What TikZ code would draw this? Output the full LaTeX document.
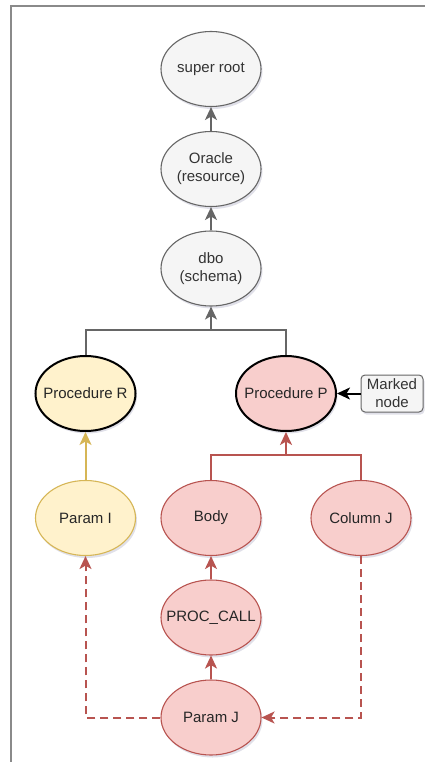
\documentclass[tikz,border=0pt]{standalone}
\usepackage{fontspec}
\setmainfont{Liberation Sans}
\usetikzlibrary{shapes.geometric,arrows.meta,shadows}

\definecolor{grayfill}{HTML}{F5F5F5}
\definecolor{graystroke}{HTML}{666666}
\definecolor{graytext}{HTML}{333333}
\definecolor{yelfill}{HTML}{FFF2CC}
\definecolor{yelstroke}{HTML}{D6B656}
\definecolor{redfill}{HTML}{F8CECC}
\definecolor{redstroke}{HTML}{B85450}
\definecolor{framecol}{HTML}{8A8A8A}

\tikzset{
  soft/.style={drop shadow={shadow xshift=1.5pt, shadow yshift=-2.5pt, opacity=0.12, fill=black!70!blue}},
  % fixed 100 x 75 ellipses: the negative x-sep keeps long labels from widening them
  oval/.style={ellipse, minimum width=100pt, minimum height=75pt, inner xsep=-12pt, inner ysep=0pt,
    align=center, font=\fontsize{15}{18}\selectfont, line width=1.1pt, soft},
  graynode/.style={oval, fill=grayfill, draw=graystroke, text=graytext},
  yelnode/.style={oval, fill=yelfill, draw=yelstroke, text=black!85},
  rednode/.style={oval, fill=redfill, draw=redstroke, text=black!85},
  keynode/.style={line width=2pt, draw=black},
  tagbox/.style={rectangle, rounded corners=4pt, fill=grayfill, draw=graystroke, text=graytext,
    line width=1pt, minimum width=62pt, minimum height=37pt, inner sep=1pt, align=center,
    font=\fontsize{15}{18}\selectfont, soft},
  tip/.style={-{Stealth[length=13pt, width=12pt, inset=3.5pt]}},
  gedge/.style={draw=graystroke, line width=2pt},
  redge/.style={draw=redstroke, line width=2pt},
  yedge/.style={draw=yelstroke, line width=2pt},
  kedge/.style={draw=black, line width=2pt},
  dedge/.style={draw=redstroke, line width=2pt, dash pattern=on 8pt off 5pt},
}

\begin{document}
\begin{tikzpicture}[x=1pt, y=-1pt]
  \useasboundingbox (0,0) rectangle (425,762);
  \fill[white] (0,0) rectangle (425,762);
  % page frame
  \draw[framecol, line width=1.5pt] (11,762) -- (11,6) -- (425,6);

  % hierarchy above the procedures
  \node[graynode] (super)  at (211,69)    {super root};
  \node[graynode] (oracle) at (211,169)   {Oracle\\(resource)};
  \node[graynode] (dbo)    at (211,268.5) {dbo\\(schema)};

  % procedures
  \node[yelnode, keynode] (procR) at (85.5,393.5) {Procedure R};
  \node[rednode, keynode] (procP) at (286,393.5)  {Procedure P};
  \node[tagbox] (marked) at (392,393.5) {Marked\\node};

  % children
  \node[yelnode] (paramI)   at (85.5,518) {Param I};
  \node[rednode] (body)     at (211,518)  {Body};
  \node[rednode] (columnJ)  at (361,518)  {Column J};
  \node[rednode] (proccall) at (211,617.5) {PROC\_CALL};
  \node[rednode] (paramJ)   at (211,717.5) {Param J};

  % junction points of the bus lines
  \coordinate (gbus) at (211,330);
  \coordinate (rbus) at (286,455);

  % gray chain
  \draw[gedge, tip] (oracle.north) -- (super.south);
  \draw[gedge, tip] (dbo.north) -- (oracle.south);
  \draw[gedge] (procR.north) |- (gbus) -| (procP.north);
  \draw[gedge, tip] (gbus) -- (dbo.south);

  % marker
  \draw[kedge, tip] (marked.west) -- (procP.east);

  % yellow edge
  \draw[yedge, tip] (paramI.north) -- (procR.south);

  % red edges
  \draw[redge] (body.north) |- (rbus) -| (columnJ.north);
  \draw[redge, tip] (rbus) -- (procP.south);
  \draw[redge, tip] (proccall.north) -- (body.south);
  \draw[redge, tip] (paramJ.north) -- (proccall.south);

  % dashed references
  \draw[dedge, tip] (paramJ.west) -| (paramI.south);
  \draw[dedge, tip] (columnJ.south) |- (paramJ.east);
\end{tikzpicture}
\end{document}
